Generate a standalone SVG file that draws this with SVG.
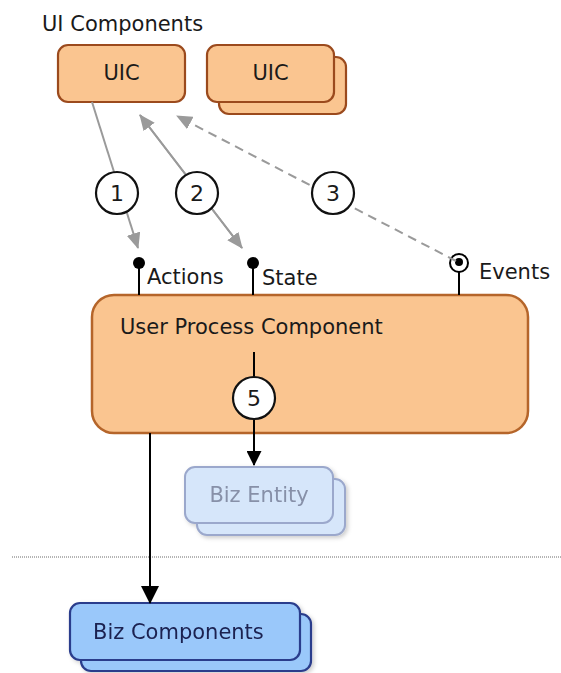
<svg xmlns="http://www.w3.org/2000/svg" width="561" height="673" viewBox="0 0 561 673">
  <defs>
    <marker id="arrGray" markerWidth="16" markerHeight="14" refX="15" refY="7" orient="auto" markerUnits="userSpaceOnUse">
      <path d="M0,0 L16,7 L0,14 Z" fill="#9a9a9a"/>
    </marker>
    <marker id="arrBlack" markerWidth="15" markerHeight="15" refX="14" refY="7.5" orient="auto" markerUnits="userSpaceOnUse">
      <path d="M0,0 L15,7.5 L0,15 Z" fill="#000"/>
    </marker>
    <marker id="arrBlackLg" markerWidth="18" markerHeight="18" refX="17" refY="9" orient="auto" markerUnits="userSpaceOnUse">
      <path d="M0,0 L18,9 L0,18 Z" fill="#000"/>
    </marker>
    <filter id="soft" x="-10%" y="-10%" width="130%" height="140%">
      <feDropShadow dx="2" dy="2" stdDeviation="2" flood-color="#000" flood-opacity="0.2"/>
    </filter>
  </defs>
  <style>
    text { font-family: "DejaVu Sans", Verdana, sans-serif; font-size: 21px; fill: #1a1a1a; }
    .uic { fill: #fac590; stroke: #9b4a1d; stroke-width: 2.2; }
    .upc { fill: #fac590; stroke: #b5652a; stroke-width: 2.5; }
    .ent { fill: #d6e6fa; stroke: #9ba8cc; stroke-width: 2; }
    .biz { fill: #9ac8fa; stroke: #2b3d8c; stroke-width: 2.2; }
    .num { fill: #fff; stroke: #111; stroke-width: 2.2; }
    .numtxt { font-size: 22px; text-anchor: middle; }
    .gray { stroke: #9a9a9a; stroke-width: 2; fill: none; }
    .blk { stroke: #000; stroke-width: 2; fill: none; }
  </style>

  <rect width="561" height="673" fill="#fff"/>

  <text x="42" y="31">UI Components</text>

  <!-- UI components -->
  <g id="uic1">
    <rect class="uic" x="58" y="45" width="127" height="57" rx="10"/>
    <text x="121.5" y="80" text-anchor="middle">UIC</text>
  </g>
  <g id="uic2">
    <rect class="uic" x="219" y="57" width="127" height="57" rx="10"/>
    <rect class="uic" x="207" y="45" width="127" height="57" rx="10"/>
    <text x="270.5" y="80" text-anchor="middle">UIC</text>
  </g>

  <!-- User process component -->
  <g id="upc">
    <rect class="upc" x="92" y="295" width="436" height="138" rx="22"/>
    <text x="120" y="334" fill="#3a2a1a">User Process Component</text>
  </g>

  <!-- Business entity -->
  <g id="bizEntity" filter="url(#soft)">
    <rect class="ent" x="197" y="479" width="148" height="56" rx="10"/>
    <rect class="ent" x="185" y="467" width="148" height="56" rx="10"/>
    <text x="259" y="502" text-anchor="middle" style="fill:#8790a8">Biz Entity</text>
  </g>

  <!-- Business components -->
  <g id="bizComponents" filter="url(#soft)">
    <rect class="biz" x="81" y="614" width="230" height="57" rx="10"/>
    <rect class="biz" x="70" y="603" width="230" height="57" rx="10"/>
    <text x="93" y="639" style="fill:#1a2050">Biz Components</text>
  </g>

  <!-- Layer separator -->
  <line x1="12" y1="557" x2="561" y2="557" stroke="#6a6a6a" stroke-width="1" stroke-dasharray="1,1"/>

  <!-- Interface ports -->
  <g id="portActions">
    <line class="blk" x1="139" y1="263" x2="139" y2="295"/>
    <circle cx="139" cy="263" r="6" fill="#000"/>
    <text x="147" y="284">Actions</text>
  </g>
  <g id="portState">
    <line class="blk" x1="253" y1="263" x2="253" y2="295"/>
    <circle cx="253" cy="263" r="6" fill="#000"/>
    <text x="262" y="285">State</text>
  </g>
  <g id="portEvents">
    <line class="blk" x1="459" y1="272" x2="459" y2="295"/>
    <circle cx="459" cy="263" r="9" fill="#fff" stroke="#000" stroke-width="2"/>
    <circle cx="459" cy="262" r="4" fill="#000"/>
    <text x="479" y="279">Events</text>
  </g>

  <!-- Connectors -->
  <g id="connectors">
    <line class="gray" x1="92" y1="102" x2="138" y2="248" marker-end="url(#arrGray)"/>
    <line class="gray" x1="242" y1="248" x2="140" y2="115" marker-end="url(#arrGray)"/>
    <line class="gray" x1="140" y1="115" x2="242" y2="248" marker-end="url(#arrGray)"/>
    <line class="gray" x1="456" y1="261" x2="177" y2="116" stroke-dasharray="9,6" marker-end="url(#arrGray)"/>
    <line class="blk" x1="254" y1="352" x2="254" y2="465" marker-end="url(#arrBlack)"/>
    <line class="blk" x1="150" y1="433" x2="150" y2="603" marker-end="url(#arrBlackLg)"/>
  </g>

  <!-- Step markers -->
  <g id="step1">
    <circle class="num" cx="117" cy="193" r="21"/>
    <text class="numtxt" x="117" y="201">1</text>
  </g>
  <g id="step2">
    <circle class="num" cx="197" cy="193" r="21"/>
    <text class="numtxt" x="197" y="201">2</text>
  </g>
  <g id="step3">
    <circle class="num" cx="333" cy="193" r="21"/>
    <text class="numtxt" x="333" y="201">3</text>
  </g>
  <g id="step5">
    <circle class="num" cx="254" cy="398" r="21"/>
    <text class="numtxt" x="254" y="406">5</text>
  </g>
</svg>
